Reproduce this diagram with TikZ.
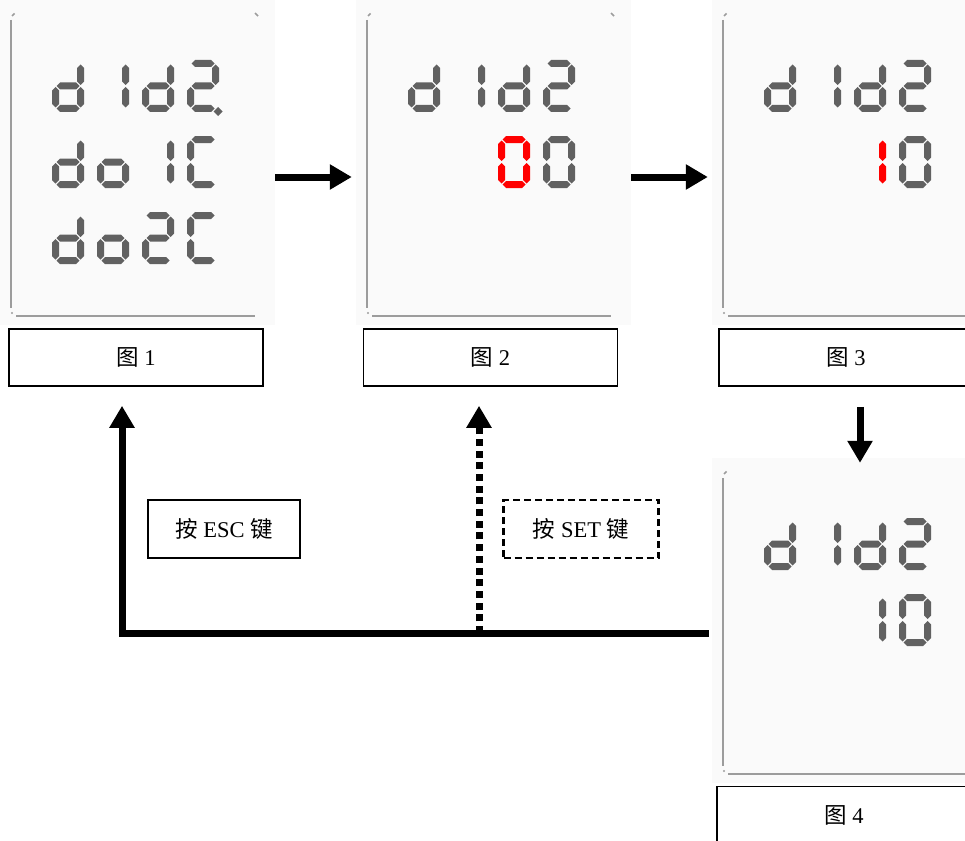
\documentclass[tikz,border=0pt]{standalone}
\usepackage{fontspec}
\setmainfont{Liberation Serif}
\newfontfamily\cjk{Noto Sans CJK SC}
\usetikzlibrary{arrows.meta}

\definecolor{lcdgray}{HTML}{616161}
\definecolor{lcdred}{HTML}{FF0000}
\definecolor{rimgray}{HTML}{9C9C9C}
\definecolor{panelbg}{HTML}{FAFAFA}

% seven segments of one LCD cell (32 x 52, y grows downwards)
\newcommand{\lcdsega}{\fill (4.5,3.5) -- (8,0) -- (24,0) -- (27.5,3.5) -- (24,7) -- (8,7) -- cycle;}
\newcommand{\lcdsegb}{\fill (28.5,4.5) -- (32,8) -- (32,21.5) -- (28.5,25) -- (25,21.5) -- (25,8) -- cycle;}
\newcommand{\lcdsegc}{\fill (28.5,27) -- (32,30.5) -- (32,44) -- (28.5,47.5) -- (25,44) -- (25,30.5) -- cycle;}
\newcommand{\lcdsegd}{\fill (4.5,48.5) -- (8,45) -- (24,45) -- (27.5,48.5) -- (24,52) -- (8,52) -- cycle;}
\newcommand{\lcdsege}{\fill (3.5,27) -- (7,30.5) -- (7,44) -- (3.5,47.5) -- (0,44) -- (0,30.5) -- cycle;}
\newcommand{\lcdsegf}{\fill (3.5,4.5) -- (7,8) -- (7,21.5) -- (3.5,25) -- (0,21.5) -- (0,8) -- cycle;}
\newcommand{\lcdsegg}{\fill (4.5,26) -- (8,22.5) -- (24,22.5) -- (27.5,26) -- (24,29.5) -- (8,29.5) -- cycle;}

% #1 = top left corner, #2 = lit segments, #3 = colour
\newcommand{\lcdchar}[3]{%
  \begin{scope}[shift={(#1)},#3]
    \foreach \s in {#2} {\csname lcdseg\s\endcsname}
  \end{scope}}

% screen background, rim lines and the name of the screen node
\newcommand{\lcdframe}[1]{%
  \node[screen] (#1) at (126.5,147.5) {};
  \draw[rim] (0,5) -- (0,293);
  \draw[rim] (5,301) -- (244,301);
  \draw[rim,line width=1.5pt] (1,1) -- (3.5,-1.5);
  \draw[rim,line width=1.5pt] (244,-2) -- (247,1);
  \fill[rimgray] (1,298) circle (1.2);}

% the "d1d2" line found on every screen
\newcommand{\didtwo}{%
  \lcdchar{41,45}{b,c,d,e,g}{lcdgray}
  \lcdchar{86,45}{b,c}{lcdgray}
  \lcdchar{131,45}{b,c,d,e,g}{lcdgray}
  \lcdchar{176,45}{a,b,g,e,d}{lcdgray}}

\tikzset{
  screen/.style={fill=panelbg,minimum width=275pt,minimum height=325pt,inner sep=0pt},
  rim/.style={draw=rimgray,line width=2pt},
  txt/.style={font=\fontsize{22.5}{26}\selectfont},
  capbox/.style={txt,draw,line width=1.6pt,minimum width=254pt,minimum height=57pt,inner sep=0pt},
  keybox/.style={txt,draw,line width=1.6pt,minimum width=152pt,minimum height=58pt,inner sep=0pt},
  flow/.style={line width=7pt,-{Triangle[length=22pt,width=24pt]}},
  dotflow/.style={dash pattern=on 7pt off 4.7pt}
}

\begin{document}
\begin{tikzpicture}[x=1pt,y=-1pt]
\useasboundingbox (0,0) rectangle (965,840);

% ---- screen 1: menu ----
\begin{scope}[shift={(11,15)}]
  \lcdframe{scr1}
  \didtwo
  \fill[lcdgray] (207,92) -- (211.5,96.5) -- (207,101) -- (202.5,96.5) -- cycle;
  \lcdchar{41,121}{b,c,d,e,g}{lcdgray}
  \lcdchar{86,121}{c,d,e,g}{lcdgray}
  \lcdchar{131,121}{b,c}{lcdgray}
  \lcdchar{176,121}{a,d,e,f}{lcdgray}
  \lcdchar{41,197}{b,c,d,e,g}{lcdgray}
  \lcdchar{86,197}{c,d,e,g}{lcdgray}
  \lcdchar{131,197}{a,b,g,e,d}{lcdgray}
  \lcdchar{176,197}{a,d,e,f}{lcdgray}
\end{scope}

% ---- screen 2: value 00, first digit blinking ----
\begin{scope}[shift={(367,15)}]
  \lcdframe{scr2}
  \didtwo
  \lcdchar{131,121}{a,b,c,d,e,f}{lcdred}
  \lcdchar{176,121}{a,b,c,d,e,f}{lcdgray}
\end{scope}

% ---- screen 3: value 10 ----
\begin{scope}[shift={(723,15)}]
  \lcdframe{scr3}
  \didtwo
  \lcdchar{131,121}{b,c}{lcdred}
  \lcdchar{176,121}{a,b,c,d,e,f}{lcdgray}
\end{scope}

% ---- screen 4: value stored ----
\begin{scope}[shift={(723,473)}]
  \lcdframe{scr4}
  \didtwo
  \lcdchar{131,121}{b,c}{lcdgray}
  \lcdchar{176,121}{a,b,c,d,e,f}{lcdgray}
\end{scope}

% captions
\node[capbox] (cap1) at (136,357.5) {{\cjk 图} 1};
\node[capbox] (cap2) at (490.5,357.5) {{\cjk 图} 2};
\node[capbox] (cap3) at (846,357.5) {{\cjk 图} 3};
\node[capbox] (cap4) at (844,815) {{\cjk 图} 4};

% keys
\node[keybox] (esckey) at (224,529) {{\cjk 按} ESC {\cjk 键}};
\node[keybox,line width=2.2pt,dash pattern=on 7pt off 4pt,minimum width=155pt] (setkey) at (581,529) {{\cjk 按} SET {\cjk 键}};

% arrows between the screens
\draw[flow,shorten >=4pt] ([yshift=-14.5pt]scr1.east) -- ([yshift=-14.5pt]scr2.west);
\draw[flow,shorten >=4pt] ([yshift=-14.5pt]scr2.east) -- ([yshift=-14.5pt]scr3.west);
\coordinate (dn) at ([xshift=14pt,yshift=-20pt]cap3.south);
\draw[flow] (dn) -- ([yshift=-5pt]dn |- scr4.north);

% return lines
\coordinate (esc0) at (122,633);
\coordinate (set0) at (479,633);
\draw[flow,shorten >=19pt] ([xshift=-3pt]scr4.west |- esc0) -- (esc0) -- (esc0 |- cap1.south);
\draw[flow,dotflow,shorten >=19pt] (set0) -- (set0 |- cap2.south);
\end{tikzpicture}
\end{document}
